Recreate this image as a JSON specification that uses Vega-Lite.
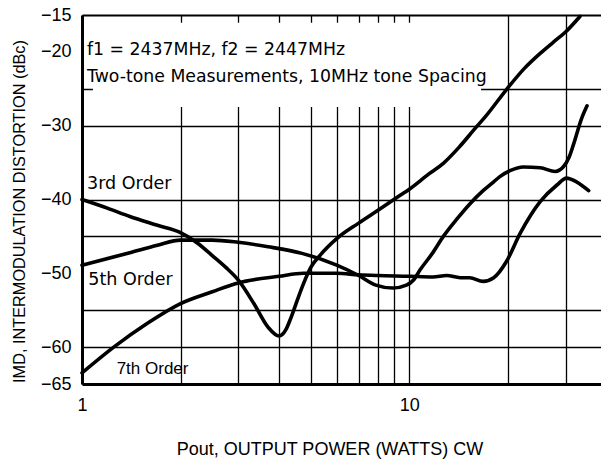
{
  "$schema": "https://vega.github.io/schema/vega-lite/v6.json",
  "width": 519,
  "height": 369,
  "autosize": {"type": "none"},
  "padding": {"left": 82, "top": 15, "right": 0, "bottom": 78},
  "background": "white",
  "config": {"view": {"stroke": null}},
  "datasets": {
    "box": [{"x": 1.08, "xe": 16.56, "y": -16.06, "ye": -27.45}],
    "curves": [
      {"order": "3rd", "x": 1, "y": -40},
      {"order": "3rd", "x": 1.2, "y": -41.2},
      {"order": "3rd", "x": 1.4, "y": -42.3},
      {"order": "3rd", "x": 1.7, "y": -43.5},
      {"order": "3rd", "x": 2, "y": -44.5},
      {"order": "3rd", "x": 2.25, "y": -45.9},
      {"order": "3rd", "x": 2.5, "y": -47.6},
      {"order": "3rd", "x": 2.75, "y": -49.2},
      {"order": "3rd", "x": 3, "y": -50.9},
      {"order": "3rd", "x": 3.35, "y": -54.1},
      {"order": "3rd", "x": 3.7, "y": -57.3},
      {"order": "3rd", "x": 4, "y": -58.5},
      {"order": "3rd", "x": 4.2, "y": -57.6},
      {"order": "3rd", "x": 4.35, "y": -56},
      {"order": "3rd", "x": 4.55, "y": -53.6},
      {"order": "3rd", "x": 4.75, "y": -51.4},
      {"order": "3rd", "x": 5, "y": -49.2},
      {"order": "3rd", "x": 5.35, "y": -47.5},
      {"order": "3rd", "x": 6, "y": -45.3},
      {"order": "3rd", "x": 7, "y": -43.2},
      {"order": "3rd", "x": 8, "y": -41.5},
      {"order": "3rd", "x": 9.4, "y": -39.4},
      {"order": "3rd", "x": 10, "y": -38.6},
      {"order": "3rd", "x": 11.5, "y": -36.5},
      {"order": "3rd", "x": 12.7, "y": -35.1},
      {"order": "3rd", "x": 14.2, "y": -32.9},
      {"order": "3rd", "x": 16, "y": -30.2},
      {"order": "3rd", "x": 17.2, "y": -28.6},
      {"order": "3rd", "x": 19.8, "y": -25.1},
      {"order": "3rd", "x": 22.5, "y": -22.2},
      {"order": "3rd", "x": 25.1, "y": -20.2},
      {"order": "3rd", "x": 27.5, "y": -18.7},
      {"order": "3rd", "x": 30, "y": -17.3},
      {"order": "3rd", "x": 33.2, "y": -15.2},
      {"order": "5th", "x": 1, "y": -48.9},
      {"order": "5th", "x": 1.4, "y": -47.2},
      {"order": "5th", "x": 1.7, "y": -46.2},
      {"order": "5th", "x": 2, "y": -45.5},
      {"order": "5th", "x": 2.5, "y": -45.5},
      {"order": "5th", "x": 3, "y": -45.8},
      {"order": "5th", "x": 3.7, "y": -46.4},
      {"order": "5th", "x": 4.7, "y": -47.3},
      {"order": "5th", "x": 6, "y": -48.9},
      {"order": "5th", "x": 7, "y": -50.3},
      {"order": "5th", "x": 7.9, "y": -51.6},
      {"order": "5th", "x": 8.9, "y": -52.0},
      {"order": "5th", "x": 9.8, "y": -51.6},
      {"order": "5th", "x": 10.3, "y": -50.9},
      {"order": "5th", "x": 10.8, "y": -49.5},
      {"order": "5th", "x": 11.8, "y": -47.2},
      {"order": "5th", "x": 12.7, "y": -45.0},
      {"order": "5th", "x": 14, "y": -42.6},
      {"order": "5th", "x": 15.3, "y": -40.6},
      {"order": "5th", "x": 16.8, "y": -38.8},
      {"order": "5th", "x": 18.1, "y": -37.6},
      {"order": "5th", "x": 18.9, "y": -36.9},
      {"order": "5th", "x": 20.3, "y": -36.1},
      {"order": "5th", "x": 22.3, "y": -35.6},
      {"order": "5th", "x": 25.1, "y": -35.7},
      {"order": "5th", "x": 27.9, "y": -36.2},
      {"order": "5th", "x": 29.5, "y": -35.6},
      {"order": "5th", "x": 30.8, "y": -34.2},
      {"order": "5th", "x": 31.8, "y": -32.4},
      {"order": "5th", "x": 33.6, "y": -29.0},
      {"order": "5th", "x": 34.9, "y": -27.3},
      {"order": "7th", "x": 1, "y": -63.5},
      {"order": "7th", "x": 1.25, "y": -60},
      {"order": "7th", "x": 1.58, "y": -56.8},
      {"order": "7th", "x": 2, "y": -54.1},
      {"order": "7th", "x": 2.5, "y": -52.5},
      {"order": "7th", "x": 3, "y": -51.3},
      {"order": "7th", "x": 4, "y": -50.4},
      {"order": "7th", "x": 4.75, "y": -50.0},
      {"order": "7th", "x": 6, "y": -50.0},
      {"order": "7th", "x": 7, "y": -50.2},
      {"order": "7th", "x": 8, "y": -50.3},
      {"order": "7th", "x": 10, "y": -50.4},
      {"order": "7th", "x": 11.8, "y": -50.5},
      {"order": "7th", "x": 13, "y": -50.3},
      {"order": "7th", "x": 14.3, "y": -50.6},
      {"order": "7th", "x": 15.3, "y": -50.6},
      {"order": "7th", "x": 16.8, "y": -51.1},
      {"order": "7th", "x": 18.1, "y": -50.6},
      {"order": "7th", "x": 19.8, "y": -48.4},
      {"order": "7th", "x": 21.8, "y": -44.6},
      {"order": "7th", "x": 25.1, "y": -40.3},
      {"order": "7th", "x": 28.3, "y": -38.0},
      {"order": "7th", "x": 30.2, "y": -37.1},
      {"order": "7th", "x": 32.4, "y": -37.6},
      {"order": "7th", "x": 35.3, "y": -38.8}
    ],
    "notes": [
      {"x": 1.036, "y": -20.42, "label": "f1 = 2437MHz, f2 = 2447MHz"},
      {"x": 1.036, "y": -24.04, "label": "Two-tone Measurements, 10MHz tone Spacing"}
    ],
    "orders": [
      {"x": 1.036, "y": -38.55, "label": "3rd Order"},
      {"x": 1.045, "y": -51.6, "label": "5th Order"}
    ],
    "orders7": [
      {"x": 1.276, "y": -63.65, "label": "7th Order"}
    ]
  },
  "encoding": {
    "x": {
      "field": "x",
      "type": "quantitative",
      "scale": {"type": "log", "domain": [1, 38.5], "nice": false},
      "axis": {
        "title": "Pout, OUTPUT POWER (WATTS) CW",
        "values": [1, 2, 3, 4, 5, 6, 7, 8, 9, 10, 20, 30],
        "labelExpr": "datum.value == 1 ? '1' : (datum.value == 10 ? '10' : '')",
        "grid": true,
        "gridColor": "black",
        "gridWidth": 1.3,
        "gridOpacity": 1,
        "ticks": false,
        "domain": true,
        "domainColor": "black",
        "domainWidth": 3,
        "labelFont": "Liberation Sans",
        "labelFontSize": 18,
        "labelColor": "black",
        "labelPadding": 12,
        "labelDx": 2.5,
        "labelOverlap": false,
        "labelFlush": false,
        "titleFont": "Liberation Sans",
        "titleFontSize": 18,
        "titleFontWeight": "normal",
        "titleColor": "black",
        "titleX": 247.5,
        "titleY": 70,
        "titleBaseline": "alphabetic",
        "titleAlign": "center"
      }
    },
    "y": {
      "field": "y",
      "type": "quantitative",
      "scale": {"domain": [-65, -15], "nice": false, "zero": false},
      "axis": {
        "title": "IMD, INTERMODULATION DISTORTION (dBc)",
        "values": [-15, -20, -25, -30, -40, -45, -50, -55, -60, -65],
        "labelExpr": "(datum.value == -25 || datum.value == -45 || datum.value == -55) ? '' : datum.label",
        "grid": true,
        "gridColor": "black",
        "gridOpacity": {"condition": {"test": "datum.value == -20 || datum.value == -50 || datum.value == -65", "value": 0}, "value": 1},
        "gridWidth": {"condition": {"test": "datum.value == -15", "value": 2}, "value": 1.3},
        "ticks": false,
        "domain": true,
        "domainColor": "black",
        "domainWidth": 3,
        "labelFont": "Liberation Sans",
        "labelFontSize": 18,
        "labelColor": "black",
        "labelPadding": 11,
        "labelOverlap": false,
        "labelFlush": false,
        "titleFont": "Liberation Sans",
        "titleFontSize": 16.3,
        "titleFontWeight": "normal",
        "titleColor": "black",
        "titleX": -58,
        "titleY": 196,
        "titleAngle": 270,
        "titleBaseline": "alphabetic",
        "titleAlign": "center"
      }
    }
  },
  "layer": [
    {
      "data": {"name": "box"},
      "mark": {"type": "rect", "fill": "white", "stroke": null},
      "encoding": {"x2": {"field": "xe"}, "y2": {"field": "ye"}}
    },
    {
      "data": {"name": "curves"},
      "mark": {"type": "line", "color": "black", "strokeWidth": 3.6, "interpolate": "monotone", "strokeCap": "round"},
      "encoding": {"detail": {"field": "order"}}
    },
    {
      "data": {"name": "notes"},
      "mark": {"type": "text", "align": "left", "baseline": "alphabetic", "font": "DejaVu Sans", "fontSize": 17.3, "color": "black"},
      "encoding": {"text": {"field": "label"}}
    },
    {
      "data": {"name": "orders"},
      "mark": {"type": "text", "align": "left", "baseline": "alphabetic", "font": "DejaVu Sans", "fontSize": 17.5, "color": "black"},
      "encoding": {"text": {"field": "label"}}
    },
    {
      "data": {"name": "orders7"},
      "mark": {"type": "text", "align": "left", "baseline": "alphabetic", "font": "Liberation Sans", "fontSize": 17, "color": "black"},
      "encoding": {"text": {"field": "label"}}
    }
  ]
}
